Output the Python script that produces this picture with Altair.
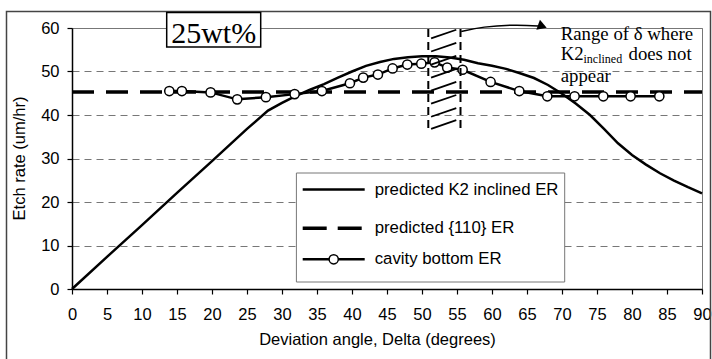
import altair as alt
import pandas as pd

# ---------------- data ----------------
k2_delta = [0, 5, 10, 15, 20, 25, 28, 30, 32, 34, 36, 38, 40, 42, 44, 46, 48, 50, 52, 54, 56,
            58, 60, 62, 64, 66, 68, 70, 72, 74, 76, 78, 80, 82, 84, 86, 88, 90]
k2_er = [0, 7.4, 14.7, 22.1, 29.4, 36.8, 41.0, 42.8, 44.4, 45.8, 47.1, 48.6, 50.0, 51.3, 52.2, 52.9,
         53.3, 53.5, 53.5, 53.2, 52.7, 51.9, 51.3, 50.6, 49.6, 48.5, 46.9, 44.9, 42.6, 40.0, 36.8,
         33.5, 30.8, 28.6, 26.6, 24.9, 23.4, 22.0]

cav_delta = [13.9, 15.7, 19.8, 23.6, 27.7, 31.8, 35.7, 39.7, 41.6, 43.7, 45.8, 47.9, 49.9, 51.8,
             53.6, 55.8, 59.8, 63.9, 67.9, 71.8, 75.9, 79.8, 83.9]
cav_er = [45.5, 45.5, 45.2, 43.6, 44.1, 44.8, 45.5, 47.3, 48.6, 49.3, 50.7, 51.6, 51.8, 52.1,
          50.9, 50.4, 47.6, 45.5, 44.3, 44.3, 44.3, 44.3, 44.3]

er110_delta = [0, 90]
er110 = [45.3, 45.3]

x_ticks = [0, 5, 10, 15, 20, 25, 30, 35, 40, 45, 50, 55, 60, 65, 70, 75, 80, 85, 90]
y_ticks = [0, 10, 20, 30, 40, 50, 60]

legend_labels = ["predicted K2 inclined ER", "predicted {110} ER", "cavity bottom ER"]

# range of delta where K2 inclined does not appear (degrees) and its vertical extent
range_delta = [50.9, 55.5]
range_er = [37.0, 60.5]
# hatch strokes inside the range (start/end in data units)
hatch_x1 = [51.3] * 8
hatch_x2 = [54.9] * 8
hatch_y1 = [57.6, 54.6, 51.6, 48.6, 45.6, 42.6, 39.6, 36.8]
hatch_y2 = [59.6, 56.6, 53.6, 50.6, 47.6, 44.6, 41.6, 38.8]
# annotation arrow path (data units)
arrow_x = [55.6, 58.6, 63.5, 67.2]
arrow_y = [59.2, 60.3, 60.8, 60.4]

W, H = 630, 261

x_scale = alt.Scale(domain=[0, 90], nice=False, zero=False)
y_scale = alt.Scale(domain=[0, 60], nice=False)

x_axis = alt.Axis(values=x_ticks, grid=False, tickSize=5, labelPadding=12, labelFlush=False,
                  title="Deviation angle, Delta (degrees)", titleX=305, titleY=55,
                  titleAlign="center", titleBaseline="alphabetic")
y_axis = alt.Axis(values=y_ticks, grid=True, tickSize=5, labelPadding=8, labelFlush=False,
                  title="Etch rate (um/hr)", titleX=-53, titleY=130, titleAngle=270,
                  titleAlign="center", titleBaseline="middle")

X = lambda f: alt.X(f, type="quantitative", scale=x_scale, axis=x_axis)
Y = lambda f: alt.Y(f, type="quantitative", scale=y_scale, axis=y_axis)

k2_df = pd.DataFrame({"delta": k2_delta, "er": k2_er})
cav_df = pd.DataFrame({"delta": cav_delta, "er": cav_er})
h_df = pd.DataFrame({"delta": er110_delta, "er": er110})
one = pd.DataFrame({"a": [0]})

# outer frame
frame = alt.Chart(one).mark_rect(fill="white", fillOpacity=0, stroke="#444", strokeWidth=1.5).encode(
    x=alt.value(-65.5), x2=alt.value(638.5), y=alt.value(-16.5), y2=alt.value(360))

k2_line = alt.Chart(k2_df).mark_line(color="black", strokeWidth=2.5).encode(
    x=X("delta"), y=Y("er"))

h_line = alt.Chart(h_df).mark_line(color="black", strokeWidth=3.5, strokeDash=[22, 12]).encode(
    x=X("delta"), y=Y("er"))

cav_line = alt.Chart(cav_df).mark_line(color="black", strokeWidth=2.5).encode(
    x=X("delta"), y=Y("er"))
cav_pts = alt.Chart(cav_df).mark_point(shape="circle", filled=True, fill="white", stroke="black",
                                       strokeWidth=1.5, size=85, opacity=1).encode(
    x=X("delta"), y=Y("er"))

# range marking
vr_df = pd.DataFrame({"d": range_delta, "y1": [range_er[0]] * 2, "y2": [range_er[1]] * 2})
vrules = alt.Chart(vr_df).mark_rule(color="black", strokeWidth=2, strokeDash=[8, 5]).encode(
    x=X("d"), y=Y("y1"), y2="y2")
hatch_df = pd.DataFrame({"x1": hatch_x1, "x2": hatch_x2, "y1": hatch_y1, "y2": hatch_y2})
hatch = alt.Chart(hatch_df).mark_rule(color="black", strokeWidth=1.8).encode(
    x=X("x1"), x2="x2", y=Y("y1"), y2="y2")

arrow_df = pd.DataFrame({"ax": arrow_x, "ay": arrow_y, "o": list(range(len(arrow_x)))})
arrow = alt.Chart(arrow_df).mark_line(color="black", strokeWidth=1.5, interpolate="basis").encode(
    x=X("ax"), y=Y("ay"), order="o")
arrow_head = alt.Chart(arrow_df.tail(1)).mark_point(shape="triangle-right", filled=True, color="black",
                                                    size=110, angle=20, opacity=1).encode(
    x=X("ax"), y=Y("ay"))

# title box "25wt%"
tbox = alt.Chart(one).mark_rect(fill="white", stroke="black", strokeWidth=1.5).encode(
    x=alt.value(94.7), x2=alt.value(188.7), y=alt.value(-15.4), y2=alt.value(19))
ttext = alt.Chart(one).mark_text(text="25wt%", font="Liberation Serif", fontSize=30, color="black",
                                 align="center", baseline="alphabetic").encode(
    x=alt.value(141.7), y=alt.value(15.2))

# annotation text
serif = dict(font="Liberation Serif", color="black", align="left", baseline="alphabetic")
a1 = alt.Chart(one).mark_text(text="Range of δ where", fontSize=18.8, **serif).encode(
    x=alt.value(488.7), y=alt.value(11.8))
a2 = alt.Chart(one).mark_text(text="K2", fontSize=18.8, **serif).encode(
    x=alt.value(488.7), y=alt.value(32.3))
a2s = alt.Chart(one).mark_text(text="inclined", fontSize=12, **serif).encode(
    x=alt.value(511.5), y=alt.value(35))
a2b = alt.Chart(one).mark_text(text="does not", fontSize=18.8, **serif).encode(
    x=alt.value(556.5), y=alt.value(32.3))
a3 = alt.Chart(one).mark_text(text="appear", fontSize=18.8, **serif).encode(
    x=alt.value(488.7), y=alt.value(54))

# legend
lbox = alt.Chart(one).mark_rect(fill="white", stroke="#777", strokeWidth=1).encode(
    x=alt.value(224.4), x2=alt.value(492.7), y=alt.value(145), y2=alt.value(254))
l1 = alt.Chart(one).mark_rule(color="black", strokeWidth=2.5).encode(
    x=alt.value(230.7), x2=alt.value(292.7), y=alt.value(161.6))
l2 = alt.Chart(one).mark_rule(color="black", strokeWidth=3.5, strokeDash=[24, 11]).encode(
    x=alt.value(230.7), x2=alt.value(292.7), y=alt.value(200.3))
l3 = alt.Chart(one).mark_rule(color="black", strokeWidth=2.5).encode(
    x=alt.value(230.7), x2=alt.value(292.7), y=alt.value(231.3))
l3p = alt.Chart(one).mark_point(shape="circle", filled=True, fill="white", stroke="black",
                                strokeWidth=1.5, size=85, opacity=1).encode(
    x=alt.value(261.7), y=alt.value(231.3))
sans = dict(font="Liberation Sans", fontSize=16.8, color="black", align="left", baseline="middle")
t1 = alt.Chart(one).mark_text(text=legend_labels[0], **sans).encode(x=alt.value(302.7), y=alt.value(161.6))
t2 = alt.Chart(one).mark_text(text=legend_labels[1], **sans).encode(x=alt.value(302.7), y=alt.value(200.3))
t3 = alt.Chart(one).mark_text(text=legend_labels[2], **sans).encode(x=alt.value(302.7), y=alt.value(231.3))

chart = alt.layer(
    frame, k2_line, h_line, cav_line, cav_pts, vrules, hatch, arrow, arrow_head,
    tbox, ttext, a1, a2, a2s, a2b, a3,
    lbox, l1, l2, l3, l3p, t1, t2, t3,
).properties(
    width=W, height=H,
    autosize=alt.AutoSizeParams(type="none"),
    padding={"left": 72, "top": 28, "right": 10, "bottom": 70},
    background="white",
).configure_view(
    stroke="#777", strokeWidth=1
).configure_axis(
    domainColor="black", domainWidth=1.5, tickColor="black", tickWidth=1.2,
    labelFont="Liberation Sans", labelFontSize=16.5, labelColor="black",
    titleFont="Liberation Sans", titleFontSize=16.5, titleFontWeight="normal", titleColor="black",
    gridColor="#777", gridDash=[7, 5], gridWidth=1,
)

chart.save("out.html", embed_options={"renderer": "svg", "actions": False})
